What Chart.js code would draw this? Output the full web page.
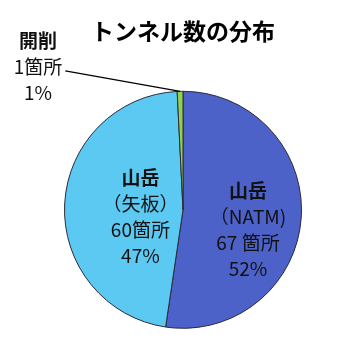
<!DOCTYPE html>
<html>
<head>
<meta charset="utf-8">
<script src="https://cdn.jsdelivr.net/npm/chart.js@4"></script>
<style>
  html, body { margin: 0; padding: 0; background: #fff; }
  #wrap { width: 356px; height: 355px; }
</style>
</head>
<body>
<div id="wrap"><canvas id="c" width="356" height="355"></canvas></div>
<script>
// ---- data ----
const titleText = 'トンネル数の分布';
const categories = ['山岳', '山岳', '開削'];
const subLabels = ['（NATM)', '（矢板）', null];
const counts = [67, 60, 1];
const sliceColors = ['#4D62C8', '#5CC9F2', '#94D04A'];

const total = counts.reduce((a, b) => a + b, 0);
const percents = counts.map(v => Math.round(v / total * 100));

// ---- label layout (styles only) ----
const FONT = '"Noto Sans CJK JP", "Noto Sans", sans-serif';
const labelStyle = [
  { mode: 'inside', frac: 0.55, dy: 15 },
  { mode: 'inside', frac: 0.36, dy: 9 },
  { mode: 'outside', dx: -145, dy: -143 }
];
const LINE_H = 26;
const LABEL_SIZE = 19;

function linesFor(i) {
  const l = [categories[i]];
  if (subLabels[i]) l.push(subLabels[i]);
  l.push(counts[i] + (i === 0 ? ' ' : '') + '箇所');
  l.push(percents[i] + '%');
  return l;
}

const labelPlugin = {
  id: 'sliceLabels',
  afterDatasetsDraw(chart) {
    const ctx = chart.ctx;
    const meta = chart.getDatasetMeta(0);
    ctx.save();
    ctx.fillStyle = '#111';
    ctx.textAlign = 'center';
    ctx.textBaseline = 'middle';
    meta.data.forEach((arc, i) => {
      const p = arc.getProps(['x', 'y', 'startAngle', 'endAngle', 'outerRadius'], true);
      const mid = (p.startAngle + p.endAngle) / 2;
      const st = labelStyle[i];
      const lines = linesFor(i);
      let cx, cy;
      if (st.mode === 'inside') {
        cx = p.x + Math.cos(mid) * p.outerRadius * st.frac;
        cy = p.y + Math.sin(mid) * p.outerRadius * st.frac + st.dy;
      } else {
        cx = p.x + st.dx;
        cy = p.y + st.dy;
      }
      const top = cy - (lines.length - 1) * LINE_H / 2;
      lines.forEach((t, k) => {
        ctx.font = (k === 0 ? 'bold ' : '') + LABEL_SIZE + 'px ' + FONT;
        ctx.fillText(t, cx, top + k * LINE_H);
      });
      if (st.mode === 'outside') {
        ctx.font = LABEL_SIZE + 'px ' + FONT;
        const w = ctx.measureText(lines[1]).width;
        const sx = cx + w / 2 + 3;
        const sy = top + LINE_H + 4;
        const ex = p.x + Math.cos(mid) * p.outerRadius;
        const ey = p.y + Math.sin(mid) * p.outerRadius;
        ctx.strokeStyle = '#000';
        ctx.lineWidth = 1.3;
        ctx.beginPath();
        ctx.moveTo(sx, sy);
        ctx.lineTo(ex, ey);
        ctx.stroke();
      }
    });
    ctx.restore();
  }
};

new Chart(document.getElementById('c'), {
  type: 'pie',
  data: {
    labels: categories.map((c, i) => c + (subLabels[i] || '')),
    datasets: [{
      data: counts,
      backgroundColor: sliceColors,
      borderColor: '#2a2a3a',
      borderWidth: 1
    }]
  },
  options: {
    responsive: false,
    animation: false,
    rotation: 0,
    layout: { padding: { top: 0, left: 64, right: 54, bottom: 26 } },
    plugins: {
      legend: { display: false },
      tooltip: { enabled: false },
      title: {
        display: true,
        text: titleText,
        color: '#000',
        font: { family: FONT, size: 23, weight: 'bold' },
        padding: { top: 17, bottom: 46 }
      }
    }
  },
  plugins: [labelPlugin]
});
</script>
</body>
</html>
